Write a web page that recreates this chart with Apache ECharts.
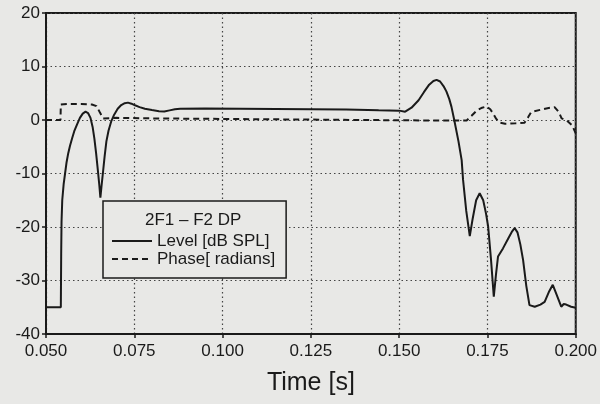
<!DOCTYPE html>
<html>
<head>
<meta charset="utf-8">
<script src="https://cdn.jsdelivr.net/npm/echarts@6/dist/echarts.min.js"></script>
<style>
html,body{margin:0;padding:0;background:#e8e8e6;}
#c{width:600px;height:404px;}
</style>
</head>
<body>
<div id="c"></div>
<script>
// Time [s]
const levelTime = [0.0500,0.0542,0.0543,0.0544,0.0546,0.0550,0.0554,0.0558,0.0563,0.0568,0.0574,0.0580,0.0588,0.0596,0.0604,0.0612,0.0619,0.0626,0.0632,0.0637,0.0642,0.0647,0.0651,0.0654,0.0657,0.0661,0.0666,0.0671,0.0677,0.0685,0.0693,0.0703,0.0713,0.0723,0.0732,0.0742,0.0752,0.0765,0.0780,0.0800,0.0820,0.0835,0.0850,0.0865,0.0880,0.0950,0.1050,0.1150,0.1250,0.1350,0.1442,0.1500,0.1517,0.1535,0.1555,0.1570,0.1585,0.1597,0.1606,0.1616,0.1626,0.1634,0.1642,0.1648,0.1656,0.1668,0.1677,0.1681,0.1690,0.1700,0.1708,0.1718,0.1728,0.1738,0.1746,0.1752,0.1760,0.1768,0.1774,0.1780,0.1794,0.1810,0.1820,0.1827,0.1835,0.1843,0.1851,0.1860,0.1869,0.1884,0.1900,0.1912,0.1925,0.1935,0.1945,0.1959,0.1966,0.1973,0.1987,0.2000];
// Level [dB SPL]
const levelValue = [-35,-35,-25,-19,-15,-12,-10,-8,-6.2,-4.8,-3.4,-2.1,-0.8,0.4,1.2,1.55,1.3,0.4,-1.3,-3.5,-6.3,-9.5,-12.2,-14.5,-12.5,-10,-6.8,-4.0,-2.0,-0.2,1.0,2.1,2.8,3.15,3.25,3.05,2.75,2.4,2.1,1.85,1.65,1.6,1.8,2.0,2.1,2.15,2.1,2.05,2.0,1.95,1.8,1.75,1.56,2.3,3.7,5.2,6.6,7.3,7.5,7.2,6.3,5.3,3.9,2.5,0,-4,-7.5,-11.2,-17,-21.7,-18.5,-15,-13.7,-15,-17.5,-19.9,-26,-33,-29,-25.5,-24,-22,-20.8,-20.2,-21,-23.2,-26.2,-31,-34.6,-34.9,-34.5,-34.0,-32,-30.8,-32.5,-34.9,-34.4,-34.5,-34.9,-35.1];
const phaseTime = [0.0500,0.0541,0.0542,0.0560,0.0600,0.0630,0.0643,0.0652,0.0662,0.0700,0.0800,0.1000,0.1200,0.1400,0.1600,0.1691,0.1705,0.1720,0.1735,0.1747,0.1758,0.1766,0.1775,0.1785,0.1800,0.1830,0.1855,0.1865,0.1874,0.1900,0.1920,0.1940,0.1952,0.1960,0.1975,0.1990,0.2000];
// Phase [radians]
const phaseValue = [0,0,2.9,3.0,3.0,2.9,2.6,1.5,0.3,0.4,0.3,0.2,0.1,0,-0.1,-0.1,0.8,1.8,2.3,2.5,2.0,1.2,0.2,-0.5,-0.7,-0.6,-0.5,0.5,1.5,1.9,2.2,2.4,1.5,0.3,-0.1,-1.0,-2.5];
const xTicks = {min:0.05, max:0.2, interval:0.025};
const yTicks = {min:-40, max:20, interval:10};
const seriesNames = ['Level [dB SPL]','Phase[ radians]'];
const legendTitle = '2F1 \u2013 F2 DP';
const xName = 'Time [s]';

const zip = (a,b)=>a.map((t,i)=>[t,b[i]]);
const font = 'Liberation Sans, Arial, Helvetica, sans-serif';
const ink = '#1a1a1a';
const chart = echarts.init(document.getElementById('c'), null, {renderer:'canvas'});
chart.setOption({
  backgroundColor:'#e8e8e6',
  animation:false,
  grid:{left:46,right:22,top:13,bottom:70,show:true,borderColor:ink,borderWidth:2,backgroundColor:'transparent'},
  title:{text:legendTitle,left:145,top:212,padding:0,textStyle:{fontFamily:font,fontSize:17,fontWeight:'normal',color:ink}},
  legend:{
    orient:'vertical',left:103,top:201,
    padding:[31,11,10,8],
    itemGap:0,itemWidth:40,itemHeight:14,
    borderColor:ink,borderWidth:1.5,backgroundColor:'#e8e8e6',
    itemStyle:{color:'transparent',borderWidth:0,opacity:0},
    textStyle:{fontFamily:font,fontSize:17,color:ink,lineHeight:18},
    data:seriesNames
  },
  xAxis:{
    type:'value',min:xTicks.min,max:xTicks.max,interval:xTicks.interval,
    name:xName,nameLocation:'middle',nameGap:37,
    nameTextStyle:{fontFamily:font,fontSize:25,color:ink},
    axisLine:{onZero:false,lineStyle:{color:ink,width:2}},
    axisTick:{show:true,inside:false,length:4,lineStyle:{color:ink,width:1.5}},
    axisLabel:{fontFamily:font,fontSize:17,color:ink,margin:9,formatter:v=>v.toFixed(3)},
    splitLine:{show:true,lineStyle:{color:'#444',width:1.2,type:[1.5,3]}}
  },
  yAxis:{
    type:'value',min:yTicks.min,max:yTicks.max,interval:yTicks.interval,
    axisLine:{onZero:false,lineStyle:{color:ink,width:2}},
    axisTick:{show:true,inside:false,length:4,lineStyle:{color:ink,width:1.5}},
    axisLabel:{fontFamily:font,fontSize:17,color:ink,margin:6},
    splitLine:{show:true,lineStyle:{color:'#444',width:1.2,type:[1.5,3]}}
  },
  series:[
    {name:seriesNames[0],type:'line',data:zip(levelTime,levelValue),showSymbol:false,symbol:'none',
     lineStyle:{color:ink,width:2},itemStyle:{color:ink},z:3},
    {name:seriesNames[1],type:'line',data:zip(phaseTime,phaseValue),showSymbol:false,symbol:'none',
     lineStyle:{color:ink,width:2,type:[6,4]},itemStyle:{color:ink},z:2}
  ]
});
</script>
</body>
</html>
